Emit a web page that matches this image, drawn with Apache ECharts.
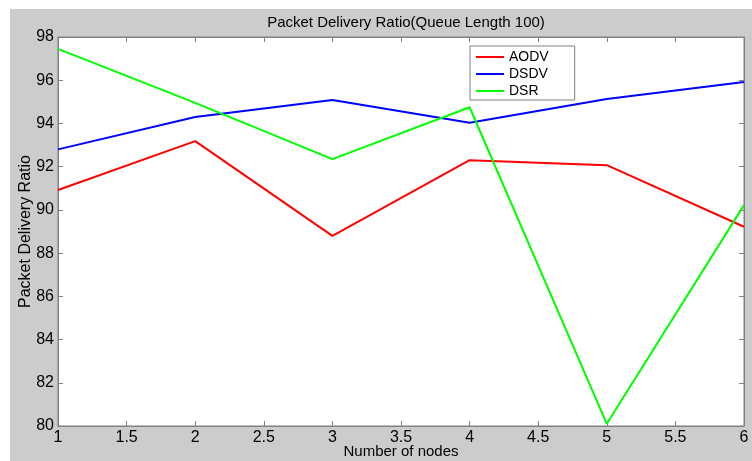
<!DOCTYPE html>
<html>
<head>
<meta charset="utf-8">
<script src="https://cdn.jsdelivr.net/npm/echarts@6/dist/echarts.min.js"></script>
<style>
  html, body { margin: 0; padding: 0; background: #fff; }
  #chart { width: 752px; height: 461px; }
</style>
</head>
<body>
<div id="chart"></div>
<script>
// number of nodes
const nodes = [1, 2, 3, 4, 5, 6]
const aodv = [90.92, 93.18, 88.8, 92.3, 92.07, 89.22]
const dsdv = [92.8, 94.3, 95.08, 94.03, 95.13, 95.92]
const dsr = [97.45, 94.95, 92.35, 94.75, 80.1, 90.22]
const xTicks = [1, 1.5, 2, 2.5, 3, 3.5, 4, 4.5, 5, 5.5, 6]
const yTicks = [80, 82, 84, 86, 88, 90, 92, 94, 96, 98]

const font = "'Liberation Sans', Arial, sans-serif"
const chart = echarts.init(document.getElementById("chart"))

function pairs(vals) {
  return nodes.map((n, i) => [n, vals[i]])
}

const tickStyle = { show: true, inside: true, length: 5, lineStyle: { color: "#808080" } }
const lineStyle = { show: true, lineStyle: { color: "#808080", width: 1 } }

const option = {
  animation: false,
  backgroundColor: "#fff",
  graphic: [
    {
      type: "rect",
      z: -10,
      shape: { x: 10, y: 9, width: 742, height: 452 },
      style: { fill: "#cccccc" },
    },
  ],
  title: {
    text: "Packet Delivery Ratio(Queue Length 100)",
    left: 401,
    textAlign: "center",
    top: 10,
    textStyle: { fontFamily: font, fontSize: 15, fontWeight: "normal", color: "#000" },
  },
  legend: {
    orient: "vertical",
    left: 470,
    top: 46,
    padding: [4, 26, 2, 6],
    icon: "rect",
    itemWidth: 28,
    itemHeight: 2,
    itemGap: 3,
    backgroundColor: "#fff",
    borderColor: "#808080",
    borderWidth: 1,
    borderRadius: 0,
    textStyle: { fontFamily: font, fontSize: 14, color: "#000", lineHeight: 14 },
    data: ["AODV", "DSDV", "DSR"],
  },
  grid: {
    left: 58,
    top: 37,
    right: 8,
    bottom: 35,
    outerBoundsMode: "none",
    show: true,
    backgroundColor: "#fff",
    borderColor: "#808080",
  },
  xAxis: [
    {
      type: "value",
      min: 1,
      max: 6,
      interval: 0.5,
      name: "Number of nodes",
      nameLocation: "middle",
      nameGap: 18,
      nameMoveOverlap: false,
      nameTextStyle: { fontFamily: font, fontSize: 15, color: "#000" },
      axisLine: lineStyle,
      axisTick: tickStyle,
      splitLine: { show: false },
      axisLabel: { fontFamily: font, fontSize: 16, color: "#000", margin: 4 },
    },
    {
      type: "value",
      position: "top",
      min: 1,
      max: 6,
      interval: 0.5,
      axisLine: lineStyle,
      axisTick: tickStyle,
      splitLine: { show: false },
      axisLabel: { show: false },
    },
  ],
  yAxis: [
    {
      type: "value",
      min: 80,
      max: 98,
      interval: 2,
      name: "Packet Delivery Ratio",
      nameLocation: "middle",
      nameGap: 24,
      nameMoveOverlap: false,
      nameTextStyle: { fontFamily: font, fontSize: 16, color: "#000" },
      axisLine: lineStyle,
      axisTick: tickStyle,
      splitLine: { show: false },
      axisLabel: { fontFamily: font, fontSize: 16, color: "#000", margin: 4 },
    },
    {
      type: "value",
      position: "right",
      min: 80,
      max: 98,
      interval: 2,
      axisLine: lineStyle,
      axisTick: tickStyle,
      splitLine: { show: false },
      axisLabel: { show: false },
    },
  ],
  series: [
    { name: "AODV", type: "line", data: pairs(aodv), showSymbol: false, symbol: "none", color: "#ff0000", lineStyle: { width: 2 } },
    { name: "DSDV", type: "line", data: pairs(dsdv), showSymbol: false, symbol: "none", color: "#0000ff", lineStyle: { width: 2 } },
    { name: "DSR", type: "line", data: pairs(dsr), showSymbol: false, symbol: "none", color: "#00ff00", lineStyle: { width: 2 } },
  ],
}
chart.setOption(option)
</script>
</body>
</html>
